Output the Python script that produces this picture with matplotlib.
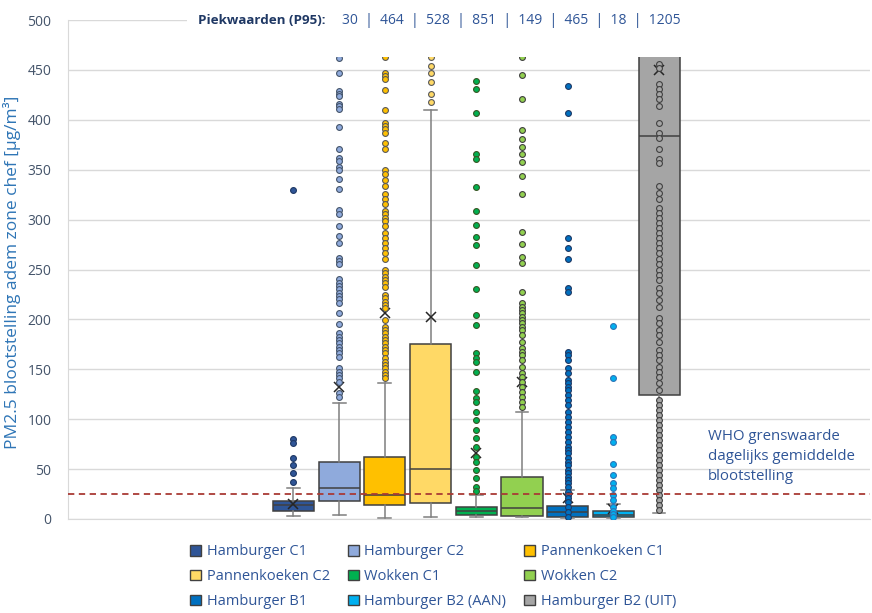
import numpy as np
import matplotlib.pyplot as plt
from matplotlib.patches import Patch, Rectangle

plt.rcParams['font.family'] = ['Open Sans', 'DejaVu Sans']

# series names, in drawing order
names = ["Hamburger C1", "Hamburger C2", "Pannenkoeken C1", "Pannenkoeken C2",
         "Wokken C1", "Wokken C2", "Hamburger B1", "Hamburger B2 (AAN)",
         "Hamburger B2 (UIT)"]
fills = ["#2F5597", "#8FAADC", "#FFC000", "#FFD966", "#00B050", "#92D050",
         "#0070C0", "#00B0F0", "#A5A5A5"]
dot_edges = ["#1F3864", "#44546A", "#595959", "#595959", "#375623", "#404040",
             "#1F3864", "#2E75B6", "#404040"]

# box statistics (µg/m³)
q1 = [8, 18, 14, 16, 4, 3, 2, 2, 124]
med = [14, 31, 24, 50, 8, 11, 7, 4, 384]
q3 = [18, 57, 62, 175, 12, 42, 13, 8, 600]
whis_lo = [3, 4, 1, 2, 2, 2, 1, 1, 6]
whis_hi = [31, 116, 136, 410, 24, 107, 29, 15, 900]
means = [15, 132, 206, 202, 66, 137, 21, 10, 450]

# individual points shown per series
pts_c1 = [330, 80, 76, 61, 54, 46, 37]
pts_c2 = [462, 447, 429, 426, 424, 416, 414, 411, 393, 371, 362, 359, 353, 350,
          341, 331, 310, 306, 294, 284, 277, 262, 259, 256, 240, 236, 233, 230,
          226, 223, 220, 216, 206, 195, 186, 182, 179, 176, 172, 169, 166, 162,
          151, 147, 144, 141, 137, 126, 122]
pts_pc1 = [463, 447, 444, 441, 430, 410, 397, 394, 391, 387, 377, 371, 350, 346,
           340, 334, 326, 321, 316, 309, 306, 302, 299, 294, 287, 282, 277, 272,
           267, 261, 249, 246, 242, 239, 236, 232, 224, 221, 217, 214, 211, 199,
           192, 189, 186, 182, 179, 176, 172, 169, 166, 161, 157, 154, 151, 147,
           144, 141]
pts_pc2 = [463, 454, 447, 438, 426, 418]
pts_wc1 = [439, 431, 407, 366, 361, 333, 309, 295, 283, 275, 255, 230, 204, 194,
           166, 161, 157, 147, 128, 121, 117, 107, 99, 89, 81, 72, 62, 57, 49,
           41, 32, 28]
pts_wc2 = [463, 445, 421, 390, 381, 373, 366, 358, 344, 326, 288, 276, 263, 257,
           227, 216, 212, 209, 206, 202, 199, 196, 192, 189, 184, 177, 171, 167,
           164, 159, 152, 146, 142, 137, 132, 127, 122, 117, 112]
pts_b1 = [434, 407, 282, 272, 261, 231, 227, 167, 164, 159, 151, 146, 139, 136,
          132, 129, 124, 119, 114, 107, 102, 97, 92, 87, 82, 77, 72, 69, 66, 61,
          57, 54, 49, 46, 42, 39, 36, 32, 27, 24, 21, 17, 12, 7, 2]
pts_b2aan = [193, 141, 82, 77, 55, 44, 36, 31, 24, 19, 12, 8, 5, 2]
pts_b2uit = [456, 452, 436, 431, 426, 421, 414, 397, 387, 382, 371, 361, 357,
             334, 327, 321, 312, 307, 302, 297, 292, 287, 282, 277, 272, 267,
             261, 256, 249, 244, 239, 231, 226, 219, 212, 201, 196, 189, 184,
             177, 169, 164, 159, 152, 147, 142, 136, 129, 119, 114, 109, 104,
             99, 94, 89, 84, 79, 74, 69, 64, 59, 54, 49, 44, 39, 34, 29, 24,
             19, 14, 9]
points = [pts_c1, pts_c2, pts_pc1, pts_pc2, pts_wc1, pts_wc2, pts_b1,
          pts_b2aan, pts_b2uit]

peaks = ["30", "464", "528", "851", "149", "465", "18", "1205"]
who_limit = 25

fig = plt.figure(figsize=(8.72, 6.13), dpi=100)
ax = fig.add_axes([68 / 872, 1 - 519 / 613, 802 / 872, 499 / 613])

for i in range(len(names)):
    st = dict(q1=q1[i], med=med[i], q3=q3[i], whislo=whis_lo[i],
              whishi=whis_hi[i], mean=means[i], fliers=points[i])
    ax.bxp([st], positions=[i], widths=0.9, patch_artist=True, showmeans=True,
           capwidths=0.28,
           boxprops=dict(facecolor=fills[i], edgecolor="#404040", lw=1.1),
           medianprops=dict(color="#404040", lw=1.1),
           whiskerprops=dict(color="#7F7F7F", lw=1.1),
           capprops=dict(color="#7F7F7F", lw=1.1),
           meanprops=dict(marker="x", markeredgecolor="#262626",
                          markersize=6.5, mew=1.1),
           flierprops=dict(marker="o", markerfacecolor=fills[i],
                           markeredgecolor=dot_edges[i], markersize=4.2,
                           mew=0.8, zorder=3))

# WHO daily limit
ax.axhline(who_limit, color="#A93A35", ls=(0, (3.5, 2.5)), lw=1.3, zorder=4)
ax.text(9.07, 90, "WHO grenswaarde\ndagelijks gemiddelde\nblootstelling",
        color="#2F5597", fontsize=10.8, va="top", ha="left", linespacing=1.45,
        zorder=4)

ax.set_xlim(-4.934, 12.615)
ax.set_ylim(0, 500)
ax.set_yticks(np.arange(0, 501, 50))
ax.set_xticks([])
ax.grid(axis="y", color="#D9D9D9", lw=1, zorder=0)
ax.set_axisbelow(True)
ax.tick_params(axis="y", length=0, labelsize=10, labelcolor="#44546A", pad=12)
for s in ["top", "right"]:
    ax.spines[s].set_visible(False)
ax.spines["left"].set_color("#D9D9D9")
ax.spines["bottom"].set_color("#D9D9D9")
ax.set_ylabel("PM2.5 blootstelling adem zone chef [µg/m³]", color="#2E75B6",
              fontsize=12.5)
ax.yaxis.set_label_coords(-0.058, 0.495)

# white header panel with the P95 values
ax.add_patch(Rectangle((-2.33, 463), 15.5, 60, facecolor="white",
                       edgecolor="none", zorder=6, clip_on=False))
fig.text(198 / 872, 1 - 20 / 613, "Piekwaarden (P95):", color="#1F3864",
         fontsize=9.6, fontweight="bold", va="center", ha="left", zorder=7)
fig.text(342 / 872, 1 - 20 / 613, "  |  ".join(peaks), color="#2F5597",
         fontsize=10, va="center", ha="left", zorder=7)

handles = [Patch(facecolor=f, edgecolor="#404040", lw=1) for f in fills]
order = [0, 3, 6, 1, 4, 7, 2, 5, 8]
fig.legend([handles[k] for k in order], [names[k] for k in order], ncol=3,
           loc="upper left", bbox_to_anchor=(183 / 872, 1 - 537 / 613),
           frameon=False, fontsize=10.5, handlelength=0.75, handleheight=0.75,
           handletextpad=0.4, columnspacing=1.2, labelspacing=0.68,
           borderpad=0, labelcolor="#2F5597")

fig.savefig("out.png", dpi=100)
